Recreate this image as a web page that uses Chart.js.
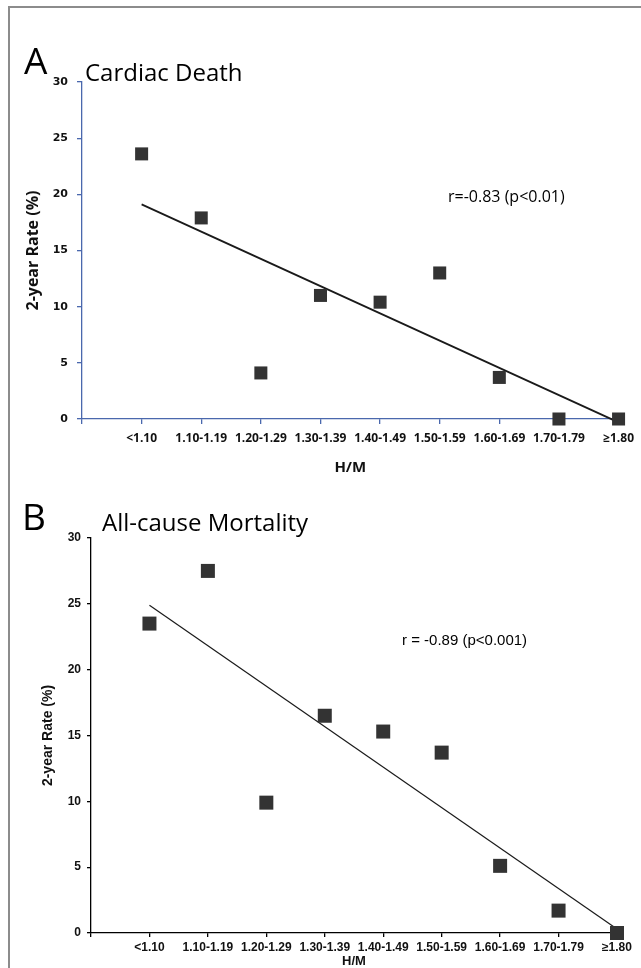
<!DOCTYPE html>
<html>
<head>
<meta charset="utf-8">
<script src="https://cdn.jsdelivr.net/npm/chart.js@4.4.1/dist/chart.umd.min.js"></script>
<style>
  html, body { margin: 0; padding: 0; background: #fff; overflow: hidden; }
  #page { position: relative; width: 641px; height: 968px; }
  #frame { position: absolute; left: 8px; top: 6px; right: -4px; bottom: -4px; border-top: 2px solid #8c8c8c; border-left: 2px solid #8c8c8c; }
  .txt { position: absolute; line-height: 1; white-space: nowrap; color: #000; }
  .os { font-family: "Open Sans", sans-serif; }
  .ls { font-family: "Liberation Sans", Arial, sans-serif; }
  canvas { position: absolute; left: 0; }
</style>
</head>
<body>
<div id="page">
  <div id="frame"></div>
  <div style="position:absolute;left:0;top:0;width:641px;height:480px"><canvas id="graficoCardiaco"></canvas></div>
  <div style="position:absolute;left:0;top:480px;width:641px;height:495px"><canvas id="graficoMortalidade"></canvas></div>

  <div class="txt os" style="left:24px;top:41px;font-size:37px">A</div>
  <div class="txt os" style="left:85px;top:60px;font-size:24px">Cardiac Death</div>
  <div class="txt os" style="left:448px;top:188px;font-size:16px">r=-0.83 (p&lt;0.01)</div>

  <div class="txt os" style="left:22px;top:497px;font-size:37px">B</div>
  <div class="txt os" style="left:102px;top:510px;font-size:24px">All-cause Mortality</div>
  <div class="txt ls" style="left:402px;top:632px;font-size:15px">r = -0.89 (p&lt;0.001)</div>
</div>

<script>
// categorias de H/M
const hmLabels = ['<1.10', '1.10-1.19', '1.20-1.29', '1.30-1.39', '1.40-1.49', '1.50-1.59', '1.60-1.69', '1.70-1.79', '≥1.80'];

// taxa em 2 anos (%)
const cardiacDeath = [23.6, 17.9, 4.1, 11.0, 10.4, 13.0, 3.7, 0, 0];
const allCause = [23.5, 27.5, 9.9, 16.5, 15.3, 13.7, 5.1, 1.7, 0];

// linha de tendencia (primeira e ultima categoria)
const cardiacFit = [19.1, -0.3];
const allCauseFit = [24.9, 0.3];

const yMax = 30;
const yStep = 5;

function pontos(valores) {
    return valores.map((v, i) => ({ x: i + 1, y: v }));
}

function tendencia(fit) {
    return [{ x: 1, y: fit[0] }, { x: hmLabels.length, y: fit[1] }];
}

function criaGrafico(id, valores, fit, cfg) {
    return new Chart(document.getElementById(id), {
        type: 'scatter',
        data: {
            datasets: [{
                data: pontos(valores),
                pointStyle: 'rect',
                pointRadius: cfg.markerRadius,
                pointBackgroundColor: '#333333',
                pointBorderWidth: 0,
                clip: false
            }, {
                data: tendencia(fit),
                showLine: true,
                pointRadius: 0,
                borderColor: '#1a1a1a',
                borderWidth: cfg.lineWidth,
                clip: false
            }]
        },
        options: {
            responsive: true,
            maintainAspectRatio: false,
            animation: false,
            events: [],
            layout: { padding: cfg.padding },
            plugins: { legend: { display: false }, tooltip: { enabled: false } },
            scales: {
                x: {
                    type: 'linear',
                    min: 0,
                    max: hmLabels.length,
                    afterFit: s => { s.height = cfg.xHeight; },
                    border: { display: true, color: cfg.axisColor, width: 1.3 },
                    grid: { drawOnChartArea: false, drawTicks: true, tickLength: cfg.tick, color: cfg.axisColor, lineWidth: 1.3 },
                    ticks: {
                        stepSize: 1,
                        autoSkip: false,
                        maxRotation: 0,
                        padding: cfg.xPad,
                        color: '#111',
                        font: cfg.xFont,
                        callback: v => hmLabels[v - 1] || ''
                    },
                    title: { display: true, text: 'H/M', color: '#111', font: cfg.xTitleFont, padding: { top: 0, bottom: cfg.xTitlePad } }
                },
                y: {
                    min: 0,
                    max: yMax,
                    afterFit: s => { s.width = cfg.yWidth; },
                    border: { display: true, color: cfg.axisColor, width: 1.3 },
                    grid: { drawOnChartArea: false, drawTicks: true, tickLength: cfg.tick, color: cfg.axisColor, lineWidth: 1.3 },
                    ticks: { stepSize: yStep, padding: cfg.yPad, color: '#111', font: cfg.yFont },
                    title: { display: true, text: '2-year Rate (%)', color: '#111', font: cfg.yTitleFont, padding: { top: cfg.yTitlePad, bottom: 0 } }
                }
            }
        }
    });
}

const graficoCardiaco = criaGrafico('graficoCardiaco', cardiacDeath, cardiacFit, {
    markerRadius: 9.2,
    lineWidth: 1.8,
    padding: { top: 82, right: 19, left: 0, bottom: 0 },
    xHeight: 61,
    yWidth: 82,
    tick: 5,
    axisColor: '#4a68ad',
    xPad: 7,
    xFont: { family: 'Open Sans', weight: 'bold', size: 12 },
    xTitleFont: { family: 'Open Sans', weight: 'bold', size: 15 },
    xTitlePad: 3,
    yPad: 9,
    yFont: { family: 'DejaVu Sans', weight: 'bold', size: 11 },
    yTitleFont: { family: 'Open Sans', weight: 'bold', size: 16 },
    yTitlePad: 24
});

const graficoMortalidade = criaGrafico('graficoMortalidade', allCause, allCauseFit, {
    markerRadius: 9.9,
    lineWidth: 1.2,
    padding: { top: 58, right: 24, left: 0, bottom: 0 },
    xHeight: 42,
    yWidth: 91,
    tick: 4,
    axisColor: '#000000',
    xPad: 3,
    xFont: { family: 'Liberation Sans', weight: 'bold', size: 12 },
    xTitleFont: { family: 'Liberation Sans', weight: 'bold', size: 13 },
    xTitlePad: 6,
    yPad: 6,
    yFont: { family: 'Liberation Sans', weight: 'bold', size: 12 },
    yTitleFont: { family: 'Liberation Sans', weight: 'bold', size: 14 },
    yTitlePad: 40
});
</script>
</body>
</html>
